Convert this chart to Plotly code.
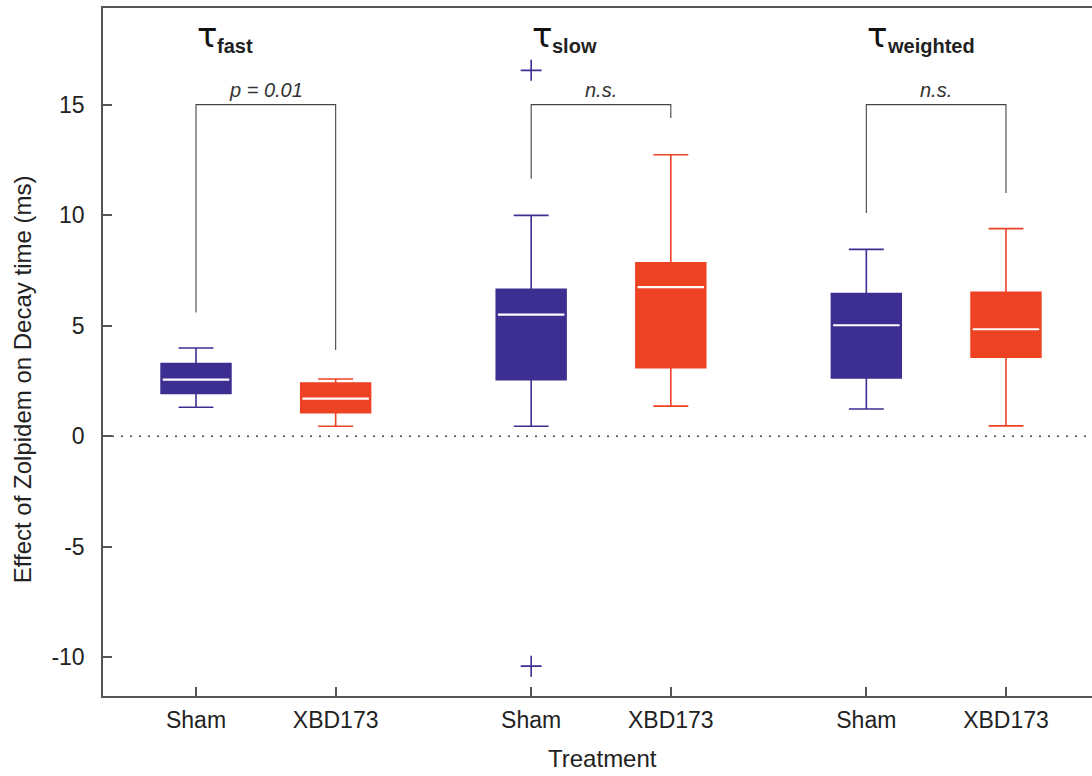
import plotly.graph_objects as go

# ---- data ----
categories = ["Sham", "XBD173", "Sham", "XBD173", "Sham", "XBD173"]
groups = ["fast", "slow", "weighted"]
sham_pos = [1.0, 3.4, 5.8]
xbd_pos = [2.0, 4.4, 6.8]

sham_q1 = [1.93, 2.56, 2.64]
sham_med = [2.56, 5.50, 5.02]
sham_q3 = [3.29, 6.65, 6.45]
sham_lo = [1.31, 0.45, 1.23]
sham_hi = [3.99, 9.99, 8.45]

xbd_q1 = [1.07, 3.10, 3.58]
xbd_med = [1.70, 6.74, 4.84]
xbd_q3 = [2.41, 7.84, 6.51]
xbd_lo = [0.45, 1.36, 0.47]
xbd_hi = [2.59, 12.73, 9.39]

outlier_x = [3.4, 3.4]
outlier_y = [16.55, -10.4]

bracket_top = [15.0, 15.0, 15.0]
bracket_left_bottom = [5.6, 11.65, 10.1]
bracket_right_bottom = [3.9, 14.4, 11.0]
bracket_labels = ["p = 0.01", "n.s.", "n.s."]

ytick_vals = [-10, -5, 0, 5, 10, 15]
ytick_text = ["-10", "-5", "0", "5", "10", "15"]

BLUE = "#3d2f91"
RED = "#ee4224"
AX = "#555555"
TXT = "#222222"
FONT = "Arial, Liberation Sans, sans-serif"

fig = go.Figure()

fig.add_trace(go.Box(
    x=sham_pos, q1=sham_q1, median=sham_med, q3=sham_q3,
    lowerfence=sham_lo, upperfence=sham_hi,
    width=0.5, whiskerwidth=0.5, fillcolor=BLUE,
    line=dict(color=BLUE, width=1.6), boxpoints=False, showlegend=False,
    hoverinfo="skip"))
fig.add_trace(go.Box(
    x=xbd_pos, q1=xbd_q1, median=xbd_med, q3=xbd_q3,
    lowerfence=xbd_lo, upperfence=xbd_hi,
    width=0.5, whiskerwidth=0.5, fillcolor=RED,
    line=dict(color=RED, width=1.6), boxpoints=False, showlegend=False,
    hoverinfo="skip"))

# white median lines
mx, my = [], []
for pos, med in list(zip(sham_pos, sham_med)) + list(zip(xbd_pos, xbd_med)):
    mx += [pos - 0.238, pos + 0.238, None]
    my += [med, med, None]
fig.add_trace(go.Scatter(x=mx, y=my, mode="lines",
                         line=dict(color="white", width=2.2),
                         showlegend=False, hoverinfo="skip"))

# outliers
fig.add_trace(go.Scatter(x=outlier_x, y=outlier_y, mode="markers",
                         marker=dict(symbol="cross-thin", size=15,
                                     line=dict(color=BLUE, width=1.6)),
                         showlegend=False, hoverinfo="skip"))

# brackets
bx, by = [], []
for xs, xx, t, lb, rb in zip(sham_pos, xbd_pos, bracket_top,
                             bracket_left_bottom, bracket_right_bottom):
    bx += [xs, xs, xx, xx, None]
    by += [lb, t, t, rb, None]
fig.add_trace(go.Scatter(x=bx, y=by, mode="lines",
                         line=dict(color="#444444", width=1.1),
                         showlegend=False, hoverinfo="skip"))

annotations = []
for xs, xx, t, lab in zip(sham_pos, xbd_pos, bracket_top, bracket_labels):
    annotations.append(dict(x=(xs + xx) / 2, y=t, xref="x", yref="y",
                            text="<i>" + lab + "</i>", showarrow=False,
                            yanchor="bottom", yshift=2,
                            font=dict(family=FONT, size=20, color="#333333")))

# tau titles
for xs, g in zip(sham_pos, groups):
    annotations.append(dict(x=xs, y=18.15, xref="x", yref="y", text="τ",
                            showarrow=False, xanchor="left", yanchor="middle",
                            xshift=-1,
                            font=dict(family="DejaVu Sans, sans-serif", size=34, color="#111111")))
    annotations.append(dict(x=xs, y=17.65, xref="x", yref="y",
                            text="<b>" + g + "</b>",
                            showarrow=False, xanchor="left", yanchor="middle",
                            xshift=19,
                            font=dict(family=FONT, size=20, color="#222222")))

# axis titles
annotations.append(dict(x=0, y=(696 - 367) / 688.5, xref="paper", yref="paper",
                        text="Effect of Zolpidem on Decay time (ms)",
                        textangle=-90, showarrow=False, xanchor="center",
                        yanchor="middle", xshift=-81, yshift=-12,
                        font=dict(family=FONT, size=24, color=TXT)))
annotations.append(dict(x=(602 - 103) / 989, y=0, xref="paper", yref="paper",
                        text="Treatment", showarrow=False, xanchor="center",
                        yanchor="middle", yshift=-62,
                        font=dict(family=FONT, size=24, color=TXT)))

fig.update_layout(
    width=1092, height=776,
    margin=dict(l=103, r=0, t=8, b=80),
    paper_bgcolor="white", plot_bgcolor="white",
    annotations=annotations,
    shapes=[dict(type="line", xref="paper", yref="y", x0=0, x1=1, y0=0, y1=0,
                 line=dict(color="#444444", width=1.5, dash="2px,7px"),
                 layer="below")],
    xaxis=dict(range=[0.334, 7.416], tickvals=sham_pos[:1] + xbd_pos[:1] + sham_pos[1:2] + xbd_pos[1:2] + sham_pos[2:] + xbd_pos[2:],
               ticktext=categories, showgrid=False, zeroline=False,
               showline=True, linecolor=AX, linewidth=1.5, mirror=True,
               ticks="inside", ticklen=9, tickwidth=1.5, tickcolor=AX,
               ticklabelstandoff=3,
               tickfont=dict(family=FONT, size=23, color=TXT)),
    yaxis=dict(range=[-11.75, 19.37], tickvals=ytick_vals, ticktext=ytick_text,
               showgrid=False, zeroline=False,
               showline=True, linecolor=AX, linewidth=1.5, mirror=False,
               ticks="inside", ticklen=9, tickwidth=1.5, tickcolor=AX,
               ticklabelstandoff=12,
               tickfont=dict(family=FONT, size=23, color=TXT)),
)

fig.write_html("out.html")
